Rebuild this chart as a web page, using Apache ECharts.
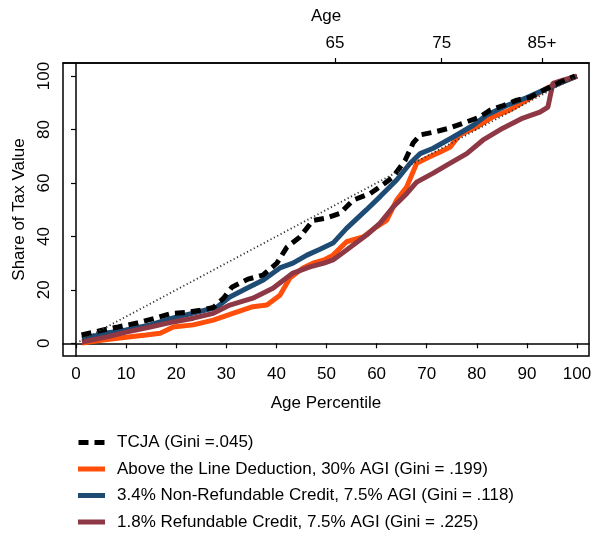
<!DOCTYPE html>
<html><head><meta charset="utf-8">
<script src="https://cdn.jsdelivr.net/npm/echarts@6/dist/echarts.min.js"></script>
<style>html,body{margin:0;padding:0;background:#fff}#c{width:599px;height:544px}</style>
</head><body><div id="c"></div>
<script>
const xTicks = [0,10,20,30,40,50,60,70,80,90,100];
const yTicks = [0,20,40,60,80,100];
const ageTickPos = [51.7, 73.0, 93.0];
const ageTickLabels = ['65','75','85+'];

const seriesNames = [
  'TCJA (Gini =.045)',
  'Above the Line Deduction, 30% AGI (Gini = .199)',
  '3.4% Non-Refundable Credit, 7.5% AGI (Gini = .118)',
  '1.8% Refundable Credit, 7.5% AGI (Gini = .225)'
];

const tcjaX = [1.1,5.4,8.4,12.2,15.8,19.1,22.1,24.8,27.4,29.4,31.1,34.3,37.3,40.1,42.1,44.7,47.3,50,52.7,55.3,58.7,61.7,63.3,65.7,67.3,68.7,71.3,74.3,77.3,80.6,82.6,85.3,88,90.6,94,96.6,99.6];
const tcjaY = [3.1,5,6.1,7.6,9.4,11.2,11.6,12.4,13.4,16.8,21,24,25.5,30,36,39.8,46,46.9,48.6,53.6,56,60,62.3,68.5,75,78,79,80.4,82.4,84.7,87.2,89,91,92,95.3,97.7,100];

const aboveX = [1.2,5.4,10,14,16.8,19.4,23.4,27.4,31.3,35.3,38.1,40.7,42.7,45.3,47.3,49.5,51.3,54,57.3,60,62,64,66,68,70.6,72.7,74.7,76.6,80,83.2,86.6,90,94,100];
const aboveY = [0.1,1.2,2.3,3.1,3.8,6.1,6.9,8.7,11.2,13.7,14.3,18,24.4,28.2,30,31.2,33,38,39.8,43.6,46,53.6,58.5,67.4,69.8,71.6,73.5,78,81,84.7,87.3,91,95.5,100];

const nonRefX = [1.2,6.2,10,14.8,19.4,23.4,28.1,30.7,34.1,37.4,40.7,43.3,46.1,48.7,51.3,54,58,60.7,64,66.7,68.7,71.3,75.3,79.3,82,86,90,94,98,100];
const nonRefY = [1.6,3.9,5,6.9,9.5,11.3,13.5,17.3,20.6,23.7,28.2,30,33,35.2,37.5,43,50,54.9,61.1,67.4,71,73,77.2,81.6,85.4,89,92,95.3,98.5,100];

const refX = [1.2,6.2,10,14.8,19.4,23.4,27.4,30.7,35.3,39.3,43.3,46.7,49.5,51.3,54,58,60.7,63.3,66,68,71.3,74.7,78,81.2,85.2,89.2,92.6,94.2,95.2,97.2,100];
const refY = [0.5,2.4,4.2,6.1,8,9.4,11.2,14.3,16.9,20.6,26.3,28.6,30,31.2,34.9,40.5,45,51,56,60.3,63.7,67.4,71,76,80.5,84.3,86.5,88.4,97.3,98.5,100];

const diagX = [0,100];
const diagY = [0,100];

const colors = ['#000000', '#FF4F0A', '#1D4B73', '#8E3845'];

const zip = (xs, ys) => xs.map((x,i) => [x, ys[i]]);
const FONT = 'Liberation Sans, Arial, Helvetica, sans-serif';
const solidIcon = 'path://M0,0H27V5H0Z';
const dashIcon = 'path://M0,0H10V5H0Z M16,0H26V5H16Z';

const chart = echarts.init(document.getElementById('c'), null, {renderer:'canvas'});
chart.setOption({
  animation:false,
  backgroundColor:'#fff',
  textStyle:{fontFamily:FONT, color:'#000'},
  grid:{left:63, top:63, right:10, bottom:188, show:true, borderColor:'#000', borderWidth:1.5, backgroundColor:'transparent'},
  legend:{
    orient:'vertical', left:78, top:434, padding:0,
    itemWidth:27, itemHeight:5, itemGap:9.5,
    data:seriesNames.map((n,i)=>({name:n, icon: i===0 ? dashIcon : solidIcon})),
    textStyle:{fontSize:17, lineHeight:17, color:'#000', fontFamily:FONT, padding:[0,0,0,7]}
  },
  xAxis:[{
    type:'value', min:-2.6, max:102.4, position:'bottom',
    axisLine:{show:true, lineStyle:{color:'#000', width:1.5}},
    axisTick:{show:true, length:5, lineStyle:{color:'#000', width:1.2}, customValues:xTicks},
    axisLabel:{fontSize:17, color:'#000', margin:10, customValues:xTicks, fontFamily:FONT},
    splitLine:{show:false},
    name:'Age Percentile', nameLocation:'middle', nameGap:39,
    nameTextStyle:{fontSize:17, color:'#000', fontFamily:FONT}
  },{
    type:'value', min:-2.6, max:102.4, position:'top',
    axisLine:{show:true, lineStyle:{color:'#000', width:1.5}},
    axisTick:{show:true, length:5, lineStyle:{color:'#000', width:1.2}, customValues:ageTickPos},
    axisLabel:{fontSize:17, color:'#000', margin:11, customValues:ageTickPos, fontFamily:FONT,
      formatter:function(v){
        let best=0, d=1e9;
        ageTickPos.forEach((p,i)=>{ if(Math.abs(p-v)<d){d=Math.abs(p-v);best=i;} });
        return ageTickLabels[best];
      }},
    splitLine:{show:false},
    name:'Age', nameLocation:'middle', nameGap:38,
    nameTextStyle:{fontSize:17, color:'#000', fontFamily:FONT}
  }],
  yAxis:{
    type:'value', min:-4.75, max:104.9,
    axisLine:{show:true, lineStyle:{color:'#000', width:1.5}},
    axisTick:{show:true, length:5, lineStyle:{color:'#000', width:1.2}, customValues:yTicks},
    axisLabel:{fontSize:17, color:'#000', margin:10, rotate:90, customValues:yTicks, fontFamily:FONT},
    splitLine:{show:false},
    name:'Share of Tax Value', nameLocation:'middle', nameGap:31,
    nameTextStyle:{fontSize:17, color:'#000', fontFamily:FONT}
  },
  series:[
    {name:seriesNames[1], type:'line', data:zip(aboveX, aboveY), showSymbol:false, symbol:'none', z:2,
      lineStyle:{color:colors[1], width:5}, itemStyle:{color:colors[1]}},
    {name:seriesNames[2], type:'line', data:zip(nonRefX, nonRefY), showSymbol:false, symbol:'none', z:3,
      lineStyle:{color:colors[2], width:5}, itemStyle:{color:colors[2]}},
    {name:seriesNames[3], type:'line', data:zip(refX, refY), showSymbol:false, symbol:'none', z:4,
      lineStyle:{color:colors[3], width:5}, itemStyle:{color:colors[3]}},
    {name:seriesNames[0], type:'line', data:zip(tcjaX, tcjaY), showSymbol:false, symbol:'none', z:5,
      lineStyle:{color:colors[0], width:5, type:[10,6]}, itemStyle:{color:colors[0]}},
    {name:'diag', type:'line', data:zip(diagX, diagY), showSymbol:false, symbol:'none', z:6,
      lineStyle:{color:'#333', width:1.8, type:[1.2,2.6]}, silent:true}
  ]
});
</script></body></html>
